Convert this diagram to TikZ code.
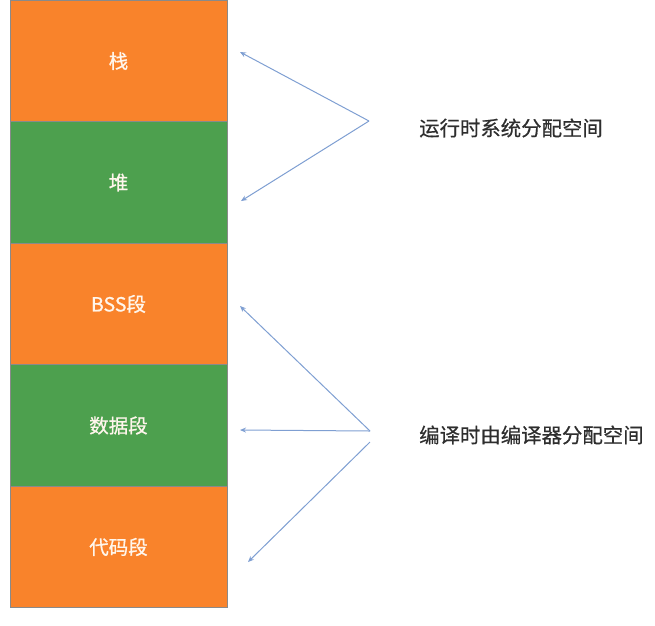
\documentclass[tikz,border=0pt]{standalone}
\usepackage{fontspec}
\setmainfont{Noto Sans CJK SC}
\newfontfamily\segfont[FakeBold=0.8]{Noto Sans CJK SC}
\newfontfamily\notefont[FakeBold=0.5]{Noto Sans CJK SC}
\usetikzlibrary{arrows.meta}
\definecolor{segorange}{HTML}{F9832B}
\definecolor{seggreen}{HTML}{4DA04E}
\definecolor{segedge}{HTML}{8A8A8A}
\definecolor{arrowblue}{HTML}{7F9FD2}
\definecolor{txt}{HTML}{2E2E2E}
\definecolor{segtext}{HTML}{FFF6EC}
\tikzset{
  seg/.style={draw=segedge, line width=0.8pt, minimum width=217pt, minimum height=121.5pt, inner sep=0pt, text=segtext, font=\segfont\fontsize{19.5}{19.5}\selectfont, anchor=center},
  orangeseg/.style={seg, fill=segorange},
  greenseg/.style={seg, fill=seggreen},
  note/.style={text=txt, font=\notefont\fontsize{20.4}{20.4}\selectfont, anchor=west, inner sep=0pt},
  conn/.style={draw=arrowblue, line width=1pt, -{Stealth[length=6pt,width=5pt]}}
}
\begin{document}
\begin{tikzpicture}[x=1pt,y=-1pt]
\useasboundingbox (0,0) rectangle (655,625);
\node[orangeseg] (stack) at (118.5,61) {栈};
\node[greenseg]  (heap)  at (118.5,182.5) {堆};
\node[orangeseg] (bss)   at (118.5,304) {BSS段};
\node[greenseg]  (data)  at (118.5,425.5) {数据段};
\node[orangeseg] (code)  at (118.5,547) {代码段};
\node[note] (run) at (419,128) {运行时系统分配空间};
\node[note] (comp) at (419,435) {编译时由编译器分配空间};
\coordinate (v1) at (369,121);
\coordinate (v2) at (370,431);
\coordinate (v3) at (370,442);
\coordinate (t1) at (240,52);
\coordinate (t2) at (241,201);
\coordinate (t3) at (240,306);
\coordinate (t4) at (240,430);
\coordinate (t5) at (248,562);
\draw[conn] (v1) -- (t1);
\draw[conn] (v1) -- (t2);
\draw[conn] (v2) -- (t3);
\draw[conn] (v2) -- (t4);
\draw[conn] (v3) -- (t5);
\end{tikzpicture}
\end{document}
